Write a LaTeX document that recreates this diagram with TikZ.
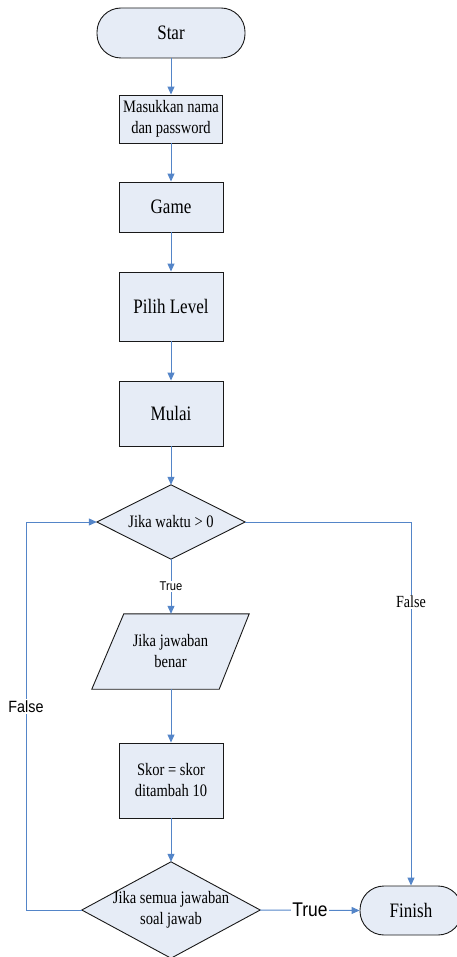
\documentclass[tikz,border=0pt]{standalone}
\usepackage{fontspec}
\setmainfont{Liberation Serif}
\newfontfamily\serA{Liberation Serif}[FakeStretch=0.83]
\newfontfamily\lsans{Liberation Sans}[FakeStretch=0.88]
\usetikzlibrary{arrows.meta,backgrounds}
\definecolor{boxfill}{RGB}{230,236,246}
\definecolor{flow}{RGB}{84,133,200}
\definecolor{edge}{RGB}{25,25,25}
\newcommand\bigser{\serA\fontsize{20.5}{24}\selectfont}
\newcommand\smallser{\serA\fontsize{17.5}{21}\selectfont}
\begin{document}
\begin{tikzpicture}[x=1pt,y=-1pt,
  box/.style={draw=edge,fill=boxfill,line width=0.9pt,minimum width=104pt,inner sep=0pt,align=center,font=\smallser},
  bigbox/.style={box,font=\bigser},
  term/.style={box,font=\bigser,rounded corners=24pt},
  holder/.style={draw=none,inner sep=0pt,align=center,font=\smallser},
  shapeline/.style={draw=edge,fill=boxfill,line width=0.9pt},
  flowline/.style={draw=flow,line width=1pt,-{Triangle[length=8pt,width=7pt]}},
  plainline/.style={draw=flow,line width=1pt},
  lab/.style={fill=white,inner sep=1.5pt}
]
\useasboundingbox (0,0) rectangle (457,957);

\node[term,minimum width=148pt,minimum height=50pt] (star) at (171,33) {Star};
\node[box,minimum width=103pt,minimum height=48pt] (masuk) at (171,119) {Masukkan nama\\dan password};
\node[bigbox,minimum height=50pt] (game) at (171,207) {Game};
\node[bigbox,minimum height=69pt] (pilih) at (171,306.5) {Pilih Level};
\node[bigbox,minimum height=65pt] (mulai) at (171,413.5) {Mulai};
\node[holder,minimum width=148pt,minimum height=74pt] (d1) at (171,522) {Jika waktu > 0};
\node[holder,minimum width=157pt,minimum height=75pt] (para) at (170.5,651.5) {Jika jawaban\\benar};
\node[box,minimum height=75pt] (skor) at (171,780.5) {Skor = skor\\ditambah 10};
\node[holder,minimum width=178pt,minimum height=96pt] (d2) at (171,910) {Jika semua jawaban\\soal jawab};
\node[term,minimum width=102pt,minimum height=49pt] (finish) at (411,910.5) {Finish};

\begin{scope}[on background layer]
\draw[shapeline] (d1.north) -- (d1.east) -- (d1.south) -- (d1.west) -- cycle;
\draw[shapeline] ([xshift=32pt]para.north west) -- (para.north east) -- ([xshift=-30pt]para.south east) -- (para.south west) -- cycle;
\draw[shapeline] (d2.north) -- (d2.east) -- (d2.south) -- (d2.west) -- cycle;
\end{scope}

\coordinate (lb) at (26,910);

\draw[flowline] (star) -- (masuk);
\draw[flowline] (masuk) -- (game);
\draw[flowline] (game) -- (pilih);
\draw[flowline] (pilih) -- (mulai);
\draw[flowline] (mulai) -- (d1.north);
\draw[flowline] (d1.south) -- node[lab,font=\lsans\fontsize{12.7}{14}\selectfont]{True} (d1.south |- para.north);
\draw[flowline] (para.south -| skor.north) -- (skor.north);
\draw[flowline] (skor) -- (d2.north);
\draw[flowline] (d2.east) -- node[lab,font=\lsans\fontsize{19.8}{22}\selectfont]{True} (finish.west);
\draw[flowline] (d1.east) -| node[lab,pos=0.61,font=\serA\fontsize{17}{20}\selectfont]{False} (finish.north);
\draw[plainline] (d2.west) -- (lb);
\draw[flowline] (lb) |- node[lab,pos=0.2625,font=\lsans\fontsize{16.3}{18}\selectfont]{False} (d1.west);
\end{tikzpicture}
\end{document}
